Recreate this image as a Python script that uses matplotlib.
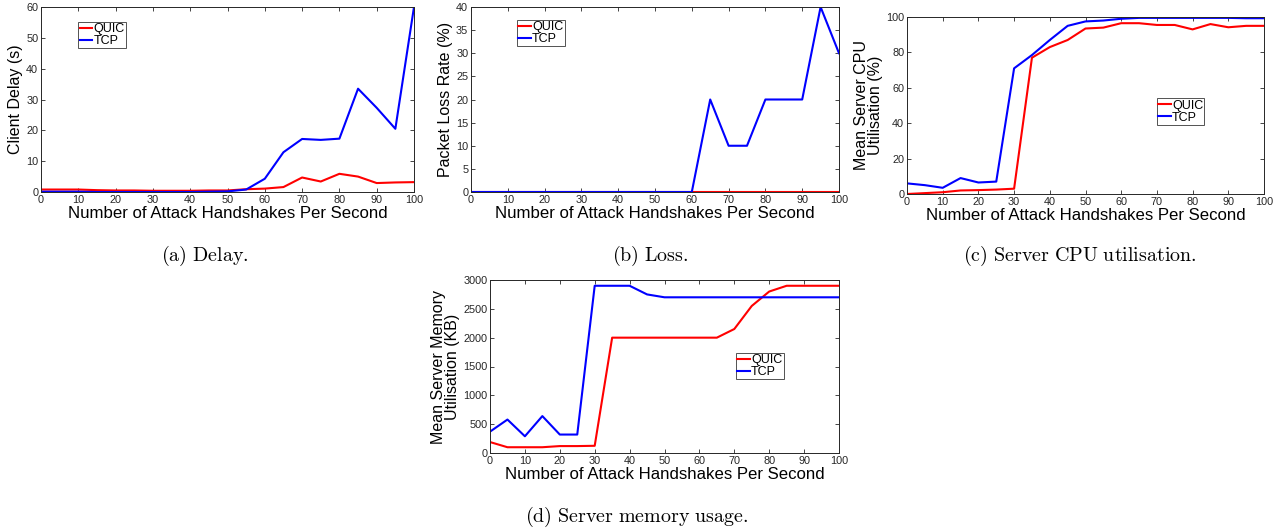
import matplotlib.pyplot as plt

plt.rcParams['font.family'] = ['Liberation Sans', 'DejaVu Sans']
plt.rcParams['mathtext.fontset'] = 'cm'

# Data
x = [0, 5, 10, 15, 20, 25, 30, 35, 40, 45, 50, 55, 60, 65, 70, 75, 80, 85, 90, 95, 100]

delay_quic = [0.8, 0.8, 0.8, 0.6, 0.5, 0.5, 0.4, 0.4, 0.4, 0.5, 0.5, 0.9, 1.1, 1.6, 4.7, 3.4, 5.9, 5.0, 2.9, 3.1, 3.2]
delay_tcp = [0.1, 0.1, 0.1, 0.0, 0.0, 0.0, 0.0, 0.0, 0.0, 0.1, 0.2, 0.8, 4.3, 12.9, 17.2, 16.9, 17.3, 33.5, 27.3, 20.5, 60.0]

loss_quic = [0] * 21
loss_tcp = [0, 0, 0, 0, 0, 0, 0, 0, 0, 0, 0, 0, 0, 20, 10, 10, 20, 20, 20, 40, 30]

cpu_quic = [0, 0.5, 1, 2, 2.2, 2.5, 3, 77, 83, 87, 93.5, 94, 96.5, 96.5, 95.5, 95.5, 93, 96, 94.2, 95, 95]
cpu_tcp = [6, 5, 3.5, 9, 6.5, 7, 71, 78.5, 87, 95, 97.5, 98, 99, 99.5, 99.5, 99.5, 99.5, 99.5, 99.5, 99.3, 99.3]

mem_quic = [190, 100, 100, 100, 120, 120, 125, 2000, 2000, 2000, 2000, 2000, 2000, 2000, 2150, 2550, 2800, 2900, 2900, 2900, 2900]
mem_tcp = [370, 580, 290, 640, 320, 320, 2900, 2900, 2900, 2750, 2700, 2700, 2700, 2700, 2700, 2700, 2700, 2700, 2700, 2700, 2700]

W, H = 1287, 528
fig = plt.figure(figsize=(W / 100, H / 100), dpi=100)


def px_axes(left, top, right, bottom):
    return fig.add_axes([left / W, 1 - bottom / H, (right - left) / W, (bottom - top) / H])


def panel(ax, quic, tcp, ymax, yticks, ylabel, leg_xy):
    ax.plot(x, quic, color='#ff0000', lw=1.5, label='QUIC')
    ax.plot(x, tcp, color='#0000ff', lw=1.5, label='TCP')
    ax.set_xlim(0, 100)
    ax.set_ylim(0, ymax)
    ax.set_xticks(range(0, 101, 10))
    ax.set_yticks(yticks)
    ax.tick_params(direction='in', top=True, right=True, labelsize=7.8,
                   colors='#262626', length=3, width=0.6, pad=2)
    for s in ax.spines.values():
        s.set_linewidth(0.7)
        s.set_color('#262626')
    ax.set_xlabel('Number of Attack Handshakes Per Second', fontsize=12.1, labelpad=1)
    ax.set_ylabel(ylabel, fontsize=11.5, labelpad=2, linespacing=0.95)
    leg = ax.legend(loc='upper left', bbox_to_anchor=leg_xy, fontsize=9, frameon=True,
                    fancybox=False, edgecolor='#262626', handlelength=1.0,
                    handletextpad=0.1, borderpad=0.1, labelspacing=0.0, borderaxespad=0)
    leg.get_frame().set_linewidth(0.7)


ax1 = px_axes(41, 7, 414, 192)
panel(ax1, delay_quic, delay_tcp, 60, range(0, 61, 10), 'Client Delay (s)', (0.1, 0.92))

ax2 = px_axes(471, 7, 839, 192)
panel(ax2, loss_quic, loss_tcp, 40, range(0, 41, 5), 'Packet Loss Rate (%)', (0.125, 0.93))

ax3 = px_axes(907, 17, 1264, 194)
panel(ax3, cpu_quic, cpu_tcp, 100, range(0, 101, 20), 'Mean Server CPU\nUtilisation (%)', (0.70, 0.54))

ax4 = px_axes(490, 280, 839, 453)
panel(ax4, mem_quic, mem_tcp, 3000, range(0, 3001, 500), 'Mean Server Memory\nUtilisation (KB)', (0.705, 0.58))

captions = [(205, 256, '(a) Delay.'), (650, 256, '(b) Loss.'),
            (1080, 256, '(c) Server CPU utilisation.'), (637, 517, '(d) Server memory usage.')]
for cx, cy, txt in captions:
    fig.text(cx / W, 1 - cy / H, '$\\mathrm{' + txt.replace(' ', '\\ ') + '}$',
             ha='center', va='center', fontsize=14.4)

fig.savefig('out.png', dpi=100)
